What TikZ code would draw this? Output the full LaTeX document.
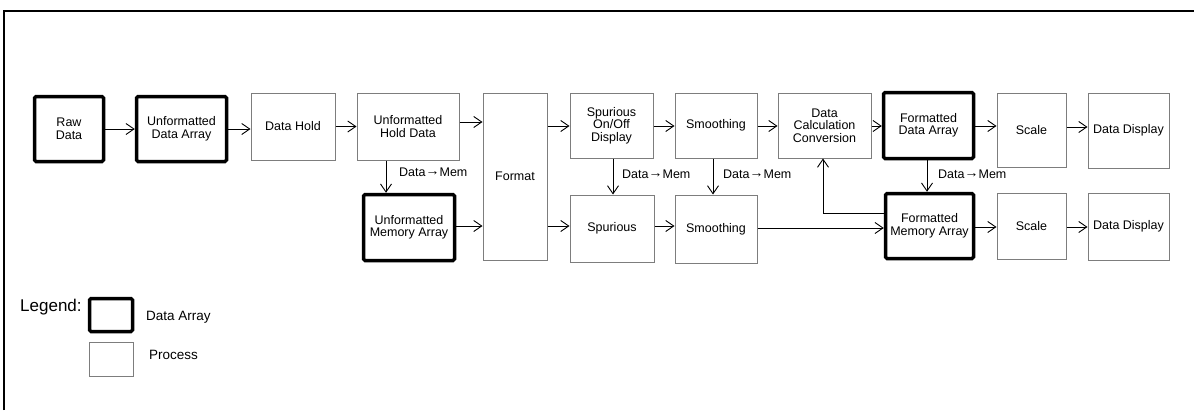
\documentclass[tikz,border=0pt]{standalone}
\usepackage{fontspec}
\setmainfont{Liberation Sans}
\newfontfamily\dejavu{DejaVu Sans}
\usetikzlibrary{arrows.meta}
\definecolor{procgray}{RGB}{125,125,125}
\newcommand{\dmarrow}{\raisebox{0.1ex}{\fontsize{14}{12}\selectfont →}}
\begin{document}
\begin{tikzpicture}[x=1pt,y=-1pt,
  base/.style={rectangle, inner sep=1pt, align=center, font=\fontsize{12.5}{12.5}\selectfont},
  proc/.style={base, draw=procgray, line width=1pt},
  darr/.style={base, draw=black, line width=3.5pt, rounded corners=1.5pt},
  arr/.style={draw=black, line width=0.9pt, -{Straight Barb[length=8pt,width=11pt]}},
  lbl/.style={font=\fontsize{12.5}{12.5}\selectfont, anchor=west, inner sep=0pt},
  leg/.style={font=\fontsize{13.5}{14}\selectfont, anchor=west, inner sep=0pt}]
\useasboundingbox (0,0) rectangle (1194,410);
\fill[white] (0,0) rectangle (1194,410);
% frame
\draw[line width=2pt] (4,410) -- (4,11) -- (1194,11);
% nodes
\node[darr, minimum width=69, minimum height=65] (raw) at (69,129) {Raw\\Data};
\node[darr, minimum width=90, minimum height=65] (uda) at (181.5,129) {Unformatted\\Data Array};
\node[proc, minimum width=84, minimum height=67] (dh) at (293,126.5) {Data Hold};
\node[proc, minimum width=102, minimum height=67] (uhd) at (408,126.5) {Unformatted\\Hold Data};
\node[darr, minimum width=91, minimum height=66] (uma) at (409,227.5) {Unformatted\\Memory Array};
\node[proc, minimum width=64, minimum height=167] (fmt) at (515,176.5) {Format};
\node[proc, minimum width=83, minimum height=65] (sod) at (611.5,125.5) {Spurious\\On/Off\\Display};
\node[proc, minimum width=84, minimum height=67] (spu) at (612,228.5) {Spurious};
\node[proc, minimum width=82, minimum height=65] (sm1) at (716,125.5) {Smoothing};
\node[proc, minimum width=82, minimum height=68] (sm2) at (716,229) {Smoothing};
\node[proc, minimum width=93, minimum height=65] (dcc) at (824.5,125.5) {Data\\Calculation\\Conversion};
\node[darr, minimum width=90, minimum height=66] (fda) at (928.5,125.5) {Formatted\\Data Array};
\node[darr, minimum width=88, minimum height=65] (fma) at (929.5,226) {Formatted\\Memory Array};
\node[proc, minimum width=69, minimum height=74] (sc1) at (1031.5,130) {Scale};
\node[proc, minimum width=81, minimum height=75] (dd1) at (1128.5,130.5) {Data Display};
\node[proc, minimum width=69, minimum height=66] (sc2) at (1031.5,226) {Scale};
\node[proc, minimum width=81, minimum height=67] (dd2) at (1128.5,226.5) {Data Display};
% connectors
\draw[arr] (raw.east) -- (uda.west);
\draw[arr] (uda.east) -- (dh.west |- uda.east);
\draw[arr] (dh.east) -- (uhd.west);
\draw[arr] (uhd.east |- 0,122) -- (fmt.west |- 0,122);
\draw[arr] (uma.east |- 0,226) -- (fmt.west |- 0,226);
\draw[arr] (fmt.east |- 0,126) -- (sod.west |- 0,126);
\draw[arr] (fmt.east |- 0,226) -- (spu.west |- 0,226);
\draw[arr] (sod.east |- 0,126) -- (sm1.west |- 0,126);
\draw[arr] (spu.east |- 0,226) -- (sm2.west |- 0,226);
\draw[arr] (sm1.east |- 0,126) -- (dcc.west |- 0,126);
\draw[arr] (dcc.east |- 0,126) -- (fda.west |- 0,126);
\draw[arr] (fda.east |- 0,126) -- (sc1.west |- 0,126);
\draw[arr] (sc1.east |- 0,127) -- (dd1.west |- 0,127);
\draw[arr] (sm2.east |- 0,228) -- (fma.west |- 0,228);
\draw[arr] (fma.east |- 0,227) -- (sc2.west |- 0,227);
\draw[arr] (sc2.east |- 0,227) -- (dd2.west |- 0,227);
\draw[arr] (uhd.south -| 386,0) -- (uma.north -| 386,0);
\draw[arr] (sod.south -| 613,0) -- (spu.north -| 613,0);
\draw[arr] (sm1.south -| 713,0) -- (sm2.north -| 713,0);
\draw[arr] (fda.south -| 927,0) -- (fma.north -| 927,0);
\draw[arr] (fma.west |- 0,213) -| (dcc.south -| 823,0);
% labels
\node[lbl] (l1) at (399,172) {Data\dmarrow Mem};
\node[lbl] (l2) at (622,174) {Data\dmarrow Mem};
\node[lbl] (l3) at (723,174) {Data\dmarrow Mem};
\node[lbl] (l4) at (938,174) {Data\dmarrow Mem};
% legend
\node[font=\fontsize{17}{17}\selectfont, anchor=west, inner sep=0pt] (legend) at (20,307) {Legend:};
\node[darr, minimum width=43, minimum height=33] (legd) at (111,315) {};
\node[proc, minimum width=44, minimum height=34] (legp) at (111,359) {};
\node[leg] (legdt) at (146,317) {Data Array};
\node[leg] (legpt) at (149,355) {Process};
\end{tikzpicture}
\end{document}
